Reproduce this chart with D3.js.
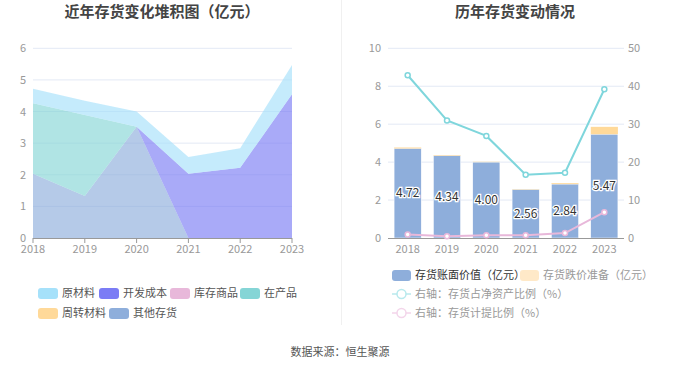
<!DOCTYPE html>
<html><head><meta charset="utf-8">
<script src="https://cdn.jsdelivr.net/npm/d3@7"></script>
<style>body{margin:0;background:#fff;font-family:"Noto Sans CJK SC","Noto Sans",sans-serif;}</style>
</head><body>
<svg id="c" width="680" height="367"></svg>
<script>
const years = ["2018","2019","2020","2021","2022","2023"];
// left stacked area (亿元)
const seriesNames = ["原材料","开发成本","库存商品","在产品","周转材料","其他存货"];
const seriesColors = ["#a6e1fa","#7b7cf5","#e8b8da","#85d5d6","#ffd999","#8eaedb"];
const rawMaterial = [0.46,0.45,0.48,0.53,0.62,0.92];
const devCost = [0,0,0,2.03,2.22,4.55];
const goods = [0,0,0,0,0,0];
const wip = [2.23,2.56,0,0,0,0];
const turnover = [0,0,0,0,0,0];
const otherInv = [2.03,1.33,3.52,0,0,0];
const leftTicks = [0,1,2,3,4,5,6];
// right chart
const bookValue = [4.72,4.34,4.00,2.56,2.84,5.47];
const impairment = [0.05,0.03,0.02,0.02,0.05,0.39];
const netAssetRatio = [42.9,31.0,26.9,16.7,17.2,39.2];
const provisionRatio = [0.9,0.45,0.7,0.7,1.3,6.8];
const rightLeftTicks = [0,2,4,6,8,10];
const rightRightTicks = [0,10,20,30,40,50];

const svg = d3.select("#c");
const font = '"Noto Sans CJK SC","Noto Sans",sans-serif';

// divider
svg.append("line").attr("x1",341.5).attr("x2",341.5).attr("y1",0).attr("y2",325).attr("stroke","#f0f0f0");

// titles
svg.append("text").attr("x",162).attr("y",17).attr("text-anchor","middle").attr("font-size",15).attr("font-weight","bold").attr("fill","#444").attr("font-family",font).text("近年存货变化堆积图（亿元）");
svg.append("text").attr("x",515).attr("y",17).attr("text-anchor","middle").attr("font-size",15).attr("font-weight","bold").attr("fill","#444").attr("font-family",font).text("历年存货变动情况");

// ---------- left chart ----------
const xL = d3.scalePoint().domain(years).range([33,292]);
const yL = d3.scaleLinear().domain([0,6]).range([238,48.3]);
const gL = svg.append("g");
leftTicks.forEach(t=>{
  if(t>0) gL.append("line").attr("x1",33).attr("x2",292).attr("y1",yL(t)).attr("y2",yL(t)).attr("stroke","#e3e9f5");
  gL.append("text").attr("x",26).attr("y",yL(t)+4).attr("text-anchor","end").attr("font-size",11).attr("fill","#999").attr("font-family",font).text(t);
});
const dataArr = [rawMaterial,devCost,goods,wip,turnover,otherInv];
const rows = years.map((y,i)=>{const o={year:y}; seriesNames.forEach((n,k)=>o[n]=dataArr[k][i]); return o;});
const stackOrder = seriesNames.slice().reverse();
const stacked = d3.stack().keys(stackOrder)(rows);
const area = d3.area().x(d=>xL(d.data.year)).y0(d=>yL(d[0])).y1(d=>yL(d[1]));
stacked.forEach(s=>{
  const k = seriesNames.indexOf(s.key);
  gL.append("path").attr("d",area(s)).attr("fill",seriesColors[k]).attr("fill-opacity",0.65).attr("stroke","none");
});
gL.append("line").attr("x1",33).attr("x2",292).attr("y1",238.5).attr("y2",238.5).attr("stroke","#999");
years.forEach(y=>{
  gL.append("line").attr("x1",xL(y)).attr("x2",xL(y)).attr("y1",238).attr("y2",243).attr("stroke","#999");
  gL.append("text").attr("x",xL(y)).attr("y",253).attr("text-anchor","middle").attr("font-size",11).attr("fill","#999").attr("font-family",font).text(y);
});
// left legend
const legPos = [[38,293],[99,293],[170,293],[240,293],[38,313],[109,313]];
seriesNames.forEach((n,k)=>{
  const [lx,ly]=legPos[k];
  svg.append("rect").attr("x",lx).attr("y",ly-5).attr("width",20).attr("height",11).attr("rx",3).attr("fill",seriesColors[k]);
  svg.append("text").attr("x",lx+24).attr("y",ly+4).attr("font-size",11).attr("fill","#555").attr("font-family",font).text(n);
});

// ---------- right chart ----------
const xR = d3.scaleBand().domain(years).range([388,624]).paddingInner(0.31).paddingOuter(0.155);
const yR = d3.scaleLinear().domain([0,10]).range([238,48.3]);
const yR2 = d3.scaleLinear().domain([0,50]).range([238,48.3]);
const gR = svg.append("g");
rightLeftTicks.forEach((t,i)=>{
  if(t>0) gR.append("line").attr("x1",388).attr("x2",624).attr("y1",yR(t)).attr("y2",yR(t)).attr("stroke","#e3e9f5");
  gR.append("text").attr("x",381).attr("y",yR(t)+4).attr("text-anchor","end").attr("font-size",11).attr("fill","#999").attr("font-family",font).text(t);
  gR.append("text").attr("x",628).attr("y",yR2(rightRightTicks[i])+4).attr("text-anchor","start").attr("font-size",11).attr("fill","#999").attr("font-family",font).text(rightRightTicks[i]);
});
years.forEach((y,i)=>{
  gR.append("rect").attr("x",xR(y)).attr("width",xR.bandwidth()).attr("y",yR(bookValue[i])).attr("height",yR(0)-yR(bookValue[i])).attr("fill","#8eaedb").attr("stroke","#fff").attr("stroke-width",0.5);
  gR.append("rect").attr("x",xR(y)).attr("width",xR.bandwidth()).attr("y",yR(bookValue[i]+impairment[i])).attr("height",yR(bookValue[i])-yR(bookValue[i]+impairment[i])).attr("fill","#ffd999");
});
gR.append("line").attr("x1",388).attr("x2",624).attr("y1",238.5).attr("y2",238.5).attr("stroke","#999");
years.forEach(y=>{
  gR.append("text").attr("x",xR(y)+xR.bandwidth()/2).attr("y",253).attr("text-anchor","middle").attr("font-size",11).attr("fill","#999").attr("font-family",font).text(y);
});
const cx = y=>xR(y)+xR.bandwidth()/2;
const line1 = d3.line().x((d,i)=>cx(years[i])).y(d=>yR2(d));
gR.append("path").attr("d",line1(netAssetRatio)).attr("fill","none").attr("stroke","#7fd6dc").attr("stroke-width",2);
gR.append("path").attr("d",line1(provisionRatio)).attr("fill","none").attr("stroke","#e8b8da").attr("stroke-width",2);
[[netAssetRatio,"#7fd6dc"],[provisionRatio,"#e8b8da"]].forEach(([arr,c])=>{
  arr.forEach((v,i)=>gR.append("circle").attr("cx",cx(years[i])).attr("cy",yR2(v)).attr("r",2.5).attr("fill","#fff").attr("stroke",c).attr("stroke-width",1.5));
});
years.forEach((y,i)=>{
  gR.append("text").attr("x",cx(y)).attr("y",yR(bookValue[i]/2)+4).attr("text-anchor","middle").attr("font-size",12).attr("fill","#333")
    .attr("stroke","#fff").attr("stroke-width",2.5).attr("paint-order","stroke").attr("font-family",font).text(bookValue[i].toFixed(2));
});
// right legend
svg.append("rect").attr("x",392).attr("y",270).attr("width",19).attr("height",11).attr("rx",3).attr("fill","#8eaedb");
svg.append("text").attr("x",415).attr("y",279).attr("font-size",11).attr("fill","#333").attr("font-family",font).text("存货账面价值（亿元）");
svg.append("rect").attr("x",520).attr("y",270).attr("width",19).attr("height",11).attr("rx",3).attr("fill","#ffe9c8");
svg.append("text").attr("x",543).attr("y",279).attr("font-size",11).attr("fill","#999").attr("font-family",font).text("存货跌价准备（亿元）");
[["右轴：存货占净资产比例（%）","#b8e9ed",294],["右轴：存货计提比例（%）","#f3d5ea",313]].forEach(([t,c,ly])=>{
  svg.append("line").attr("x1",392).attr("x2",411).attr("y1",ly).attr("y2",ly).attr("stroke",c).attr("stroke-width",1.5);
  svg.append("circle").attr("cx",401.5).attr("cy",ly).attr("r",4.5).attr("fill","#fff").attr("stroke",c).attr("stroke-width",1.5);
  svg.append("text").attr("x",415).attr("y",ly+4).attr("font-size",11).attr("fill","#999").attr("font-family",font).text(t);
});
// footer
svg.append("text").attr("x",340).attr("y",356).attr("text-anchor","middle").attr("font-size",11).attr("fill","#555").attr("font-family",font).text("数据来源：恒生聚源");
</script>
</body></html>
